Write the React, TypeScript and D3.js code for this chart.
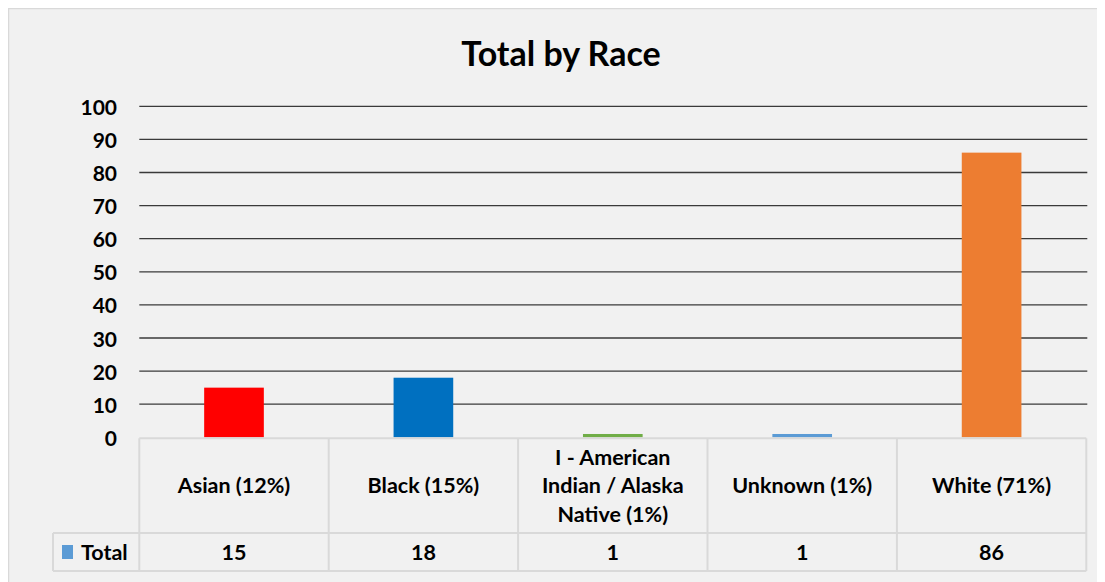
import React from "react";
import * as d3 from "d3";

const categories = [
  "Asian (12%)",
  "Black (15%)",
  "I - American Indian / Alaska Native (1%)",
  "Unknown (1%)",
  "White (71%)",
];
const totals = [15, 18, 1, 1, 86];
const barColors = ["#ff0000", "#0070c0", "#70ad47", "#5b9bd5", "#ed7d31"];
const yTicks = [0, 10, 20, 30, 40, 50, 60, 70, 80, 90, 100];
const seriesName = "Total";
const seriesColor = "#5b9bd5";
const title = "Total by Race";

const FONT = "Lato, 'Open Sans', Arial, sans-serif";

function wrap(text: string, maxW: number, font: string): string[] {
  const c = document.createElement("canvas").getContext("2d");
  if (!c) return [text];
  c.font = font;
  const words = text.split(" ");
  const lines: string[] = [];
  let cur = "";
  for (const w of words) {
    const t = cur ? cur + " " + w : w;
    if (c.measureText(t).width > maxW && cur) {
      lines.push(cur);
      cur = w;
    } else cur = t;
  }
  if (cur) lines.push(cur);
  return lines;
}

export default function App() {
  const W = 1097;
  const H = 574;
  const left = 139.3;
  const right = 1086.3;
  const tableTop = 437.3;
  const rowDiv = 533;
  const tableBottom = 571;
  const legendLeft = 53;

  const x = d3.scaleBand<string>().domain(categories).range([left, right]).paddingInner(0).paddingOuter(0);
  const y = d3.scaleLinear().domain([0, 100]).range([tableTop, 106.3]);
  const barW = x.bandwidth() * 0.315;

  const fs = 21.5;
  const labelFont = `bold ${fs}px ${FONT}`;

  return (
    <svg width={W} height={H} style={{ display: "block" }}>
      <g transform="translate(-8,-8)">
        <rect x={8.5} y={8.5} width={1200} height={700} fill="#f1f1f1" stroke="#d9d9d9" strokeWidth={1.5} />
        <text x={561} y={52} textAnchor="middle" dominantBaseline="central" fontFamily={FONT} fontWeight="bold" fontSize={34} fill="#000">
          {title}
        </text>
        {yTicks.filter((t) => t > 0).map((t) => (
          <line key={"g" + t} x1={left} x2={right + 1} y1={y(t)} y2={y(t)} stroke="#3a3a3a" strokeWidth={1.3} />
        ))}
        {yTicks.map((t) => (
          <text key={"t" + t} x={117} y={y(t)} textAnchor="end" dominantBaseline="central" fontFamily={FONT} fontWeight="bold" fontSize={21} fill="#000">
            {t}
          </text>
        ))}
        {categories.map((c, i) => (
          <rect key={"b" + c} x={(x(c) as number) + (x.bandwidth() - barW) / 2} y={y(totals[i])} width={barW} height={tableTop - y(totals[i])} fill={barColors[i]} />
        ))}
        <g stroke="#d9d9d9" strokeWidth={2} fill="none">
          <line x1={left} x2={right} y1={tableTop + 1} y2={tableTop + 1} />
          <line x1={legendLeft} x2={right} y1={rowDiv} y2={rowDiv} />
          <line x1={legendLeft} x2={right} y1={tableBottom} y2={tableBottom} />
          {[...categories.map((c) => x(c) as number), right].map((xx, i) => (
            <line key={"v" + i} x1={xx} x2={xx} y1={tableTop + 1} y2={tableBottom} />
          ))}
          <line x1={legendLeft} x2={legendLeft} y1={rowDiv} y2={tableBottom} />
        </g>
        {categories.map((c) => {
          const lines = wrap(c, 165, labelFont);
          const cx = (x(c) as number) + x.bandwidth() / 2;
          const cy = (tableTop + rowDiv) / 2;
          const lh = 28.5;
          return (
            <text key={"l" + c} x={cx} textAnchor="middle" fontFamily={FONT} fontWeight="bold" fontSize={fs} fill="#000">
              {lines.map((ln, k) => (
                <tspan key={k} x={cx} y={cy + (k - (lines.length - 1) / 2) * lh} dominantBaseline="central">
                  {ln}
                </tspan>
              ))}
            </text>
          );
        })}
        {categories.map((c, i) => (
          <text key={"v" + c} x={(x(c) as number) + x.bandwidth() / 2} y={(rowDiv + tableBottom) / 2} textAnchor="middle" dominantBaseline="central" fontFamily={FONT} fontWeight="bold" fontSize={fs} fill="#000">
            {totals[i]}
          </text>
        ))}
        <rect x={62} y={545} width={11} height={14} fill={seriesColor} />
        <text x={81} y={(rowDiv + tableBottom) / 2} dominantBaseline="central" fontFamily={FONT} fontWeight="bold" fontSize={fs} fill="#000">
          {seriesName}
        </text>
      </g>
    </svg>
  );
}
